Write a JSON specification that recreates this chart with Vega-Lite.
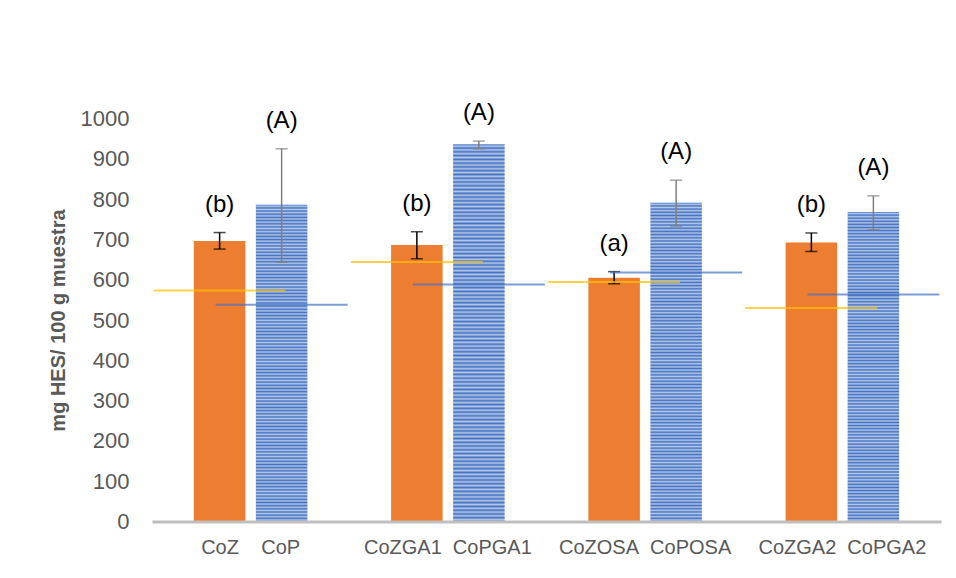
{
  "$schema": "https://vega.github.io/schema/vega-lite/v6.json",
  "width": 789,
  "height": 403,
  "autosize": {"type": "none"},
  "padding": {"left": 152, "top": 118.5, "right": 15, "bottom": 56.5},
  "background": "#ffffff",
  "config": {"font": "Liberation Sans", "view": {"stroke": null}},
  "data": {
    "values": [
      {"muestra": "CoZ", "serie": "Z", "grupo": "CoZ\u00a0\u00a0\u00a0\u00a0CoP", "valor": 696, "errMin": 676, "errMax": 717, "ref": 573, "letra": "(b)"},
      {"muestra": "CoP", "serie": "P", "grupo": "CoZ\u00a0\u00a0\u00a0\u00a0CoP", "valor": 786, "errMin": 643, "errMax": 925, "ref": 538, "letra": "(A)"},
      {"muestra": "CoZGA1", "serie": "Z", "grupo": "CoZGA1\u00a0\u00a0CoPGA1", "valor": 686, "errMin": 652, "errMax": 719, "ref": 644, "letra": "(b)"},
      {"muestra": "CoPGA1", "serie": "P", "grupo": "CoZGA1\u00a0\u00a0CoPGA1", "valor": 936, "errMin": 925, "errMax": 944, "ref": 588, "letra": "(A)"},
      {"muestra": "CoZOSA", "serie": "Z", "grupo": "CoZOSA\u00a0\u00a0CoPOSA", "valor": 605, "errMin": 590, "errMax": 620, "ref": 594, "letra": "(a)"},
      {"muestra": "CoPOSA", "serie": "P", "grupo": "CoZOSA\u00a0\u00a0CoPOSA", "valor": 791, "errMin": 733, "errMax": 847, "ref": 618, "letra": "(A)"},
      {"muestra": "CoZGA2", "serie": "Z", "grupo": "CoZGA2\u00a0\u00a0CoPGA2", "valor": 692, "errMin": 670, "errMax": 716, "ref": 530, "letra": "(b)"},
      {"muestra": "CoPGA2", "serie": "P", "grupo": "CoZGA2\u00a0\u00a0CoPGA2", "valor": 768, "errMin": 724, "errMax": 808, "ref": 563, "letra": "(A)"}
    ]
  },
  "encoding": {
    "x": {
      "field": "grupo", "type": "nominal", "sort": null,
      "scale": {"paddingInner": 0, "paddingOuter": 0},
      "axis": {"title": null, "ticks": false, "labelAngle": 0, "labelFontSize": 20, "labelColor": "#595959", "labelPadding": 16, "domainColor": "#bfbfbf", "domainWidth": 3, "zindex": 1}
    },
    "xOffset": {
      "field": "serie", "type": "nominal", "sort": ["Z", "P"],
      "scale": {"paddingInner": 0.169, "paddingOuter": 0.675}
    }
  },
  "layer": [
    {
      "mark": {"type": "bar"},
      "encoding": {
        "y": {
          "field": "valor", "type": "quantitative", "title": "mg HES/ 100 g muestra",
          "scale": {"domain": [0, 1000], "nice": false},
          "axis": {"values": [0, 100, 200, 300, 400, 500, 600, 700, 800, 900, 1000], "format": "d", "grid": false, "domain": false, "ticks": false, "labelFontSize": 22, "labelColor": "#595959", "labelPadding": 23, "titleFontSize": 20, "titleFontWeight": "bold", "titleColor": "#595959", "titlePadding": 12}
        },
        "color": {
          "condition": {"test": "datum.serie === 'Z'", "value": "#ed7d31"},
          "value": {
            "gradient": "linear", "x1": 0, "y1": 0, "x2": 0, "y2": 1,
            "stops": [
{"offset":0,"color":"#4472c4"},{"offset":0.005,"color":"#b4c7e7"},{"offset":0.01,"color":"#4472c4"},{"offset":0.015,"color":"#b4c7e7"},{"offset":0.02,"color":"#4472c4"},{"offset":0.025,"color":"#b4c7e7"},{"offset":0.03,"color":"#4472c4"},{"offset":0.035,"color":"#b4c7e7"},{"offset":0.04,"color":"#4472c4"},{"offset":0.045,"color":"#b4c7e7"},{"offset":0.05,"color":"#4472c4"},{"offset":0.055,"color":"#b4c7e7"},{"offset":0.06,"color":"#4472c4"},{"offset":0.065,"color":"#b4c7e7"},{"offset":0.07,"color":"#4472c4"},{"offset":0.075,"color":"#b4c7e7"},{"offset":0.08,"color":"#4472c4"},{"offset":0.085,"color":"#b4c7e7"},{"offset":0.09,"color":"#4472c4"},{"offset":0.095,"color":"#b4c7e7"},
{"offset":0.1,"color":"#4472c4"},{"offset":0.105,"color":"#b4c7e7"},{"offset":0.11,"color":"#4472c4"},{"offset":0.115,"color":"#b4c7e7"},{"offset":0.12,"color":"#4472c4"},{"offset":0.125,"color":"#b4c7e7"},{"offset":0.13,"color":"#4472c4"},{"offset":0.135,"color":"#b4c7e7"},{"offset":0.14,"color":"#4472c4"},{"offset":0.145,"color":"#b4c7e7"},{"offset":0.15,"color":"#4472c4"},{"offset":0.155,"color":"#b4c7e7"},{"offset":0.16,"color":"#4472c4"},{"offset":0.165,"color":"#b4c7e7"},{"offset":0.17,"color":"#4472c4"},{"offset":0.175,"color":"#b4c7e7"},{"offset":0.18,"color":"#4472c4"},{"offset":0.185,"color":"#b4c7e7"},{"offset":0.19,"color":"#4472c4"},{"offset":0.195,"color":"#b4c7e7"},
{"offset":0.2,"color":"#4472c4"},{"offset":0.205,"color":"#b4c7e7"},{"offset":0.21,"color":"#4472c4"},{"offset":0.215,"color":"#b4c7e7"},{"offset":0.22,"color":"#4472c4"},{"offset":0.225,"color":"#b4c7e7"},{"offset":0.23,"color":"#4472c4"},{"offset":0.235,"color":"#b4c7e7"},{"offset":0.24,"color":"#4472c4"},{"offset":0.245,"color":"#b4c7e7"},{"offset":0.25,"color":"#4472c4"},{"offset":0.255,"color":"#b4c7e7"},{"offset":0.26,"color":"#4472c4"},{"offset":0.265,"color":"#b4c7e7"},{"offset":0.27,"color":"#4472c4"},{"offset":0.275,"color":"#b4c7e7"},{"offset":0.28,"color":"#4472c4"},{"offset":0.285,"color":"#b4c7e7"},{"offset":0.29,"color":"#4472c4"},{"offset":0.295,"color":"#b4c7e7"},
{"offset":0.3,"color":"#4472c4"},{"offset":0.305,"color":"#b4c7e7"},{"offset":0.31,"color":"#4472c4"},{"offset":0.315,"color":"#b4c7e7"},{"offset":0.32,"color":"#4472c4"},{"offset":0.325,"color":"#b4c7e7"},{"offset":0.33,"color":"#4472c4"},{"offset":0.335,"color":"#b4c7e7"},{"offset":0.34,"color":"#4472c4"},{"offset":0.345,"color":"#b4c7e7"},{"offset":0.35,"color":"#4472c4"},{"offset":0.355,"color":"#b4c7e7"},{"offset":0.36,"color":"#4472c4"},{"offset":0.365,"color":"#b4c7e7"},{"offset":0.37,"color":"#4472c4"},{"offset":0.375,"color":"#b4c7e7"},{"offset":0.38,"color":"#4472c4"},{"offset":0.385,"color":"#b4c7e7"},{"offset":0.39,"color":"#4472c4"},{"offset":0.395,"color":"#b4c7e7"},
{"offset":0.4,"color":"#4472c4"},{"offset":0.405,"color":"#b4c7e7"},{"offset":0.41,"color":"#4472c4"},{"offset":0.415,"color":"#b4c7e7"},{"offset":0.42,"color":"#4472c4"},{"offset":0.425,"color":"#b4c7e7"},{"offset":0.43,"color":"#4472c4"},{"offset":0.435,"color":"#b4c7e7"},{"offset":0.44,"color":"#4472c4"},{"offset":0.445,"color":"#b4c7e7"},{"offset":0.45,"color":"#4472c4"},{"offset":0.455,"color":"#b4c7e7"},{"offset":0.46,"color":"#4472c4"},{"offset":0.465,"color":"#b4c7e7"},{"offset":0.47,"color":"#4472c4"},{"offset":0.475,"color":"#b4c7e7"},{"offset":0.48,"color":"#4472c4"},{"offset":0.485,"color":"#b4c7e7"},{"offset":0.49,"color":"#4472c4"},{"offset":0.495,"color":"#b4c7e7"},
{"offset":0.5,"color":"#4472c4"},{"offset":0.505,"color":"#b4c7e7"},{"offset":0.51,"color":"#4472c4"},{"offset":0.515,"color":"#b4c7e7"},{"offset":0.52,"color":"#4472c4"},{"offset":0.525,"color":"#b4c7e7"},{"offset":0.53,"color":"#4472c4"},{"offset":0.535,"color":"#b4c7e7"},{"offset":0.54,"color":"#4472c4"},{"offset":0.545,"color":"#b4c7e7"},{"offset":0.55,"color":"#4472c4"},{"offset":0.555,"color":"#b4c7e7"},{"offset":0.56,"color":"#4472c4"},{"offset":0.565,"color":"#b4c7e7"},{"offset":0.57,"color":"#4472c4"},{"offset":0.575,"color":"#b4c7e7"},{"offset":0.58,"color":"#4472c4"},{"offset":0.585,"color":"#b4c7e7"},{"offset":0.59,"color":"#4472c4"},{"offset":0.595,"color":"#b4c7e7"},
{"offset":0.6,"color":"#4472c4"},{"offset":0.605,"color":"#b4c7e7"},{"offset":0.61,"color":"#4472c4"},{"offset":0.615,"color":"#b4c7e7"},{"offset":0.62,"color":"#4472c4"},{"offset":0.625,"color":"#b4c7e7"},{"offset":0.63,"color":"#4472c4"},{"offset":0.635,"color":"#b4c7e7"},{"offset":0.64,"color":"#4472c4"},{"offset":0.645,"color":"#b4c7e7"},{"offset":0.65,"color":"#4472c4"},{"offset":0.655,"color":"#b4c7e7"},{"offset":0.66,"color":"#4472c4"},{"offset":0.665,"color":"#b4c7e7"},{"offset":0.67,"color":"#4472c4"},{"offset":0.675,"color":"#b4c7e7"},{"offset":0.68,"color":"#4472c4"},{"offset":0.685,"color":"#b4c7e7"},{"offset":0.69,"color":"#4472c4"},{"offset":0.695,"color":"#b4c7e7"},
{"offset":0.7,"color":"#4472c4"},{"offset":0.705,"color":"#b4c7e7"},{"offset":0.71,"color":"#4472c4"},{"offset":0.715,"color":"#b4c7e7"},{"offset":0.72,"color":"#4472c4"},{"offset":0.725,"color":"#b4c7e7"},{"offset":0.73,"color":"#4472c4"},{"offset":0.735,"color":"#b4c7e7"},{"offset":0.74,"color":"#4472c4"},{"offset":0.745,"color":"#b4c7e7"},{"offset":0.75,"color":"#4472c4"},{"offset":0.755,"color":"#b4c7e7"},{"offset":0.76,"color":"#4472c4"},{"offset":0.765,"color":"#b4c7e7"},{"offset":0.77,"color":"#4472c4"},{"offset":0.775,"color":"#b4c7e7"},{"offset":0.78,"color":"#4472c4"},{"offset":0.785,"color":"#b4c7e7"},{"offset":0.79,"color":"#4472c4"},{"offset":0.795,"color":"#b4c7e7"},
{"offset":0.8,"color":"#4472c4"},{"offset":0.805,"color":"#b4c7e7"},{"offset":0.81,"color":"#4472c4"},{"offset":0.815,"color":"#b4c7e7"},{"offset":0.82,"color":"#4472c4"},{"offset":0.825,"color":"#b4c7e7"},{"offset":0.83,"color":"#4472c4"},{"offset":0.835,"color":"#b4c7e7"},{"offset":0.84,"color":"#4472c4"},{"offset":0.845,"color":"#b4c7e7"},{"offset":0.85,"color":"#4472c4"},{"offset":0.855,"color":"#b4c7e7"},{"offset":0.86,"color":"#4472c4"},{"offset":0.865,"color":"#b4c7e7"},{"offset":0.87,"color":"#4472c4"},{"offset":0.875,"color":"#b4c7e7"},{"offset":0.88,"color":"#4472c4"},{"offset":0.885,"color":"#b4c7e7"},{"offset":0.89,"color":"#4472c4"},{"offset":0.895,"color":"#b4c7e7"},
{"offset":0.9,"color":"#4472c4"},{"offset":0.905,"color":"#b4c7e7"},{"offset":0.91,"color":"#4472c4"},{"offset":0.915,"color":"#b4c7e7"},{"offset":0.92,"color":"#4472c4"},{"offset":0.925,"color":"#b4c7e7"},{"offset":0.93,"color":"#4472c4"},{"offset":0.935,"color":"#b4c7e7"},{"offset":0.94,"color":"#4472c4"},{"offset":0.945,"color":"#b4c7e7"},{"offset":0.95,"color":"#4472c4"},{"offset":0.955,"color":"#b4c7e7"},{"offset":0.96,"color":"#4472c4"},{"offset":0.965,"color":"#b4c7e7"},{"offset":0.97,"color":"#4472c4"},{"offset":0.975,"color":"#b4c7e7"},{"offset":0.98,"color":"#4472c4"},{"offset":0.985,"color":"#b4c7e7"},{"offset":0.99,"color":"#4472c4"},{"offset":0.995,"color":"#b4c7e7"},
{"offset":1,"color":"#4472c4"}
            ]
          }
        }
      }
    },
    {
      "mark": {"type": "rule", "strokeWidth": 1.5},
      "encoding": {
        "y": {"field": "errMin", "type": "quantitative", "title": "mg HES/ 100 g muestra"},
        "y2": {"field": "errMax"},
        "color": {"condition": {"test": "datum.serie === 'Z'", "value": "#000000"}, "value": "#7f7f7f"}
      }
    },
    {
      "mark": {"type": "tick", "size": 12, "thickness": 1.5},
      "encoding": {
        "y": {"field": "errMin", "type": "quantitative", "title": "mg HES/ 100 g muestra"},
        "color": {"condition": {"test": "datum.serie === 'Z'", "value": "#000000"}, "value": "#7f7f7f"}
      }
    },
    {
      "mark": {"type": "tick", "size": 12, "thickness": 1.5},
      "encoding": {
        "y": {"field": "errMax", "type": "quantitative", "title": "mg HES/ 100 g muestra"},
        "color": {"condition": {"test": "datum.serie === 'Z'", "value": "#000000"}, "value": "#7f7f7f"}
      }
    },
    {
      "mark": {"type": "tick", "size": 132, "thickness": 2},
      "encoding": {
        "y": {"field": "ref", "type": "quantitative", "title": "mg HES/ 100 g muestra"},
        "color": {"condition": {"test": "datum.serie === 'Z'", "value": "#ffc000"}, "value": "#4472c4"}
      }
    },
    {
      "mark": {"type": "text", "fontSize": 24, "baseline": "middle", "dy": -28, "color": "#000000"},
      "encoding": {
        "y": {"field": "errMax", "type": "quantitative", "title": "mg HES/ 100 g muestra"},
        "text": {"field": "letra"}
      }
    }
  ]
}
